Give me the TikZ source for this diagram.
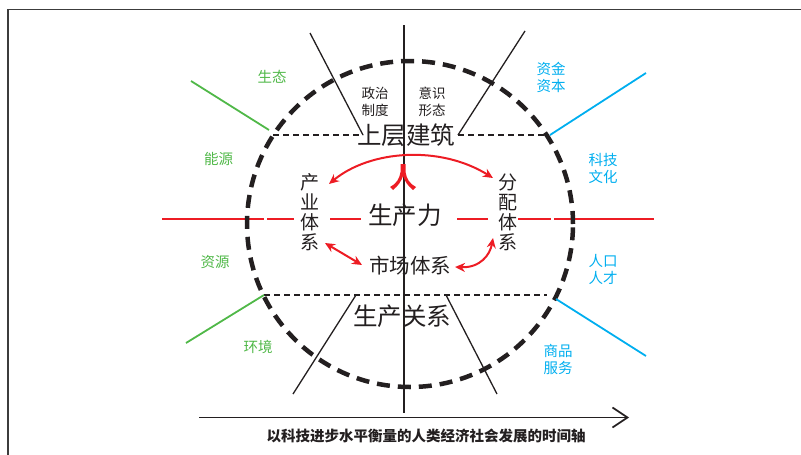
\documentclass[tikz,border=0pt]{standalone}
\usepackage{fontspec}
\newfontfamily\cjk{Noto Sans CJK SC}
\usetikzlibrary{arrows.meta}
\definecolor{tgreen}{RGB}{80,184,72}
\definecolor{tblue}{RGB}{0,174,239}
\definecolor{tred}{RGB}{237,28,36}
\definecolor{tink}{RGB}{35,31,32}
\definecolor{tframe}{RGB}{60,60,60}
\begin{document}
\begin{tikzpicture}[x=1pt,y=-1pt,
  every node/.style={inner sep=0pt,text=tink},
  small/.style={align=center,font=\cjk\fontsize{13.5}{17}\selectfont},
  side/.style={align=center,font=\cjk\fontsize{14.5}{17}\selectfont},
  big/.style={font=\cjk\fontsize{24.5}{26}\selectfont},
  mid/.style={font=\cjk\fontsize{20.5}{22}\selectfont},
  vert/.style={align=center,font=\cjk\fontsize{19}{20}\selectfont},
  caption/.style={font=\cjk\bfseries\fontsize{14.5}{16}\selectfont},
  circ/.style={line width=4.5pt,dash pattern=on 13pt off 8pt,tink},
  thindash/.style={line width=1.4pt,dash pattern=on 6pt off 4pt,tink},
  oblique/.style={line width=1.3pt,tink},
  gline/.style={line width=1.8pt,tgreen},
  bline/.style={line width=1.8pt,tblue},
  redl/.style={line width=2pt,tred},
  redarrow/.style={line width=2pt,tred,{Stealth[length=10pt,width=9pt]}-{Stealth[length=10pt,width=9pt]}}
]
\useasboundingbox (0,0) rectangle (801,455);
% frame
\draw[tframe,line width=1.3pt] (8,455) -- (8,9.5) -- (801,9.5);

% red horizontal line (drawn first)
\draw[redl] (162,218.5) -- (264,218.5);
\draw[redl] (267,218.5) -- (294,218.5);
\draw[redl] (330,218.5) -- (361,218.5);
\draw[redl] (457,218.5) -- (488,218.5);
\draw[redl] (518,218.5) -- (551,218.5);
\draw[redl] (554,218.5) -- (654,218.5);

% dashed circle
\draw[circ] (410,224) circle[radius=163pt];

% thin dashed horizontal lines
\draw[thindash] (273,135) -- (363,135);
\draw[thindash] (458,135) -- (547,135);
\draw[thindash] (264,295) -- (547,295);

% vertical axis
\coordinate (vtop) at (404,25);
\coordinate (vbot) at (404,413);
\draw[line width=1.6pt,tink] (vtop) -- (vbot);

% oblique black lines
\draw[oblique] (310,33) -- (363,135);
\draw[oblique] (525,31) -- (458,135);
\draw[oblique] (356,295) -- (293,394);
\draw[oblique] (446,295) -- (497,394);

% green lines
\draw[gline] (191,81) -- (269,130);
\draw[gline] (186,343) -- (264,295);
% blue lines
\draw[bline] (550,135) -- (646,73);
\draw[bline] (556,299) -- (646,356);

% time axis
\coordinate (t0) at (199,417.5);
\coordinate (t1) at (629,417.5);
\draw[line width=1.7pt,tink,-{Straight Barb[length=15pt,width=20pt]}] (t0) -- (t1);
\node[caption] (cap) at (426,436) {以科技进步水平衡量的人类经济社会发展的时间轴};

% main labels
\node[big] (sc) at (406,135) {上层建筑};
\node[big] (scl) at (405,215) {生产力};
\node[big] (scgx) at (402,316) {生产关系};
\node[mid] (sctx) at (410,266) {市场体系};
\node[vert] (cy) at (310,212) {产\\业\\体\\系};
\node[vert] (fp) at (508,212) {分\\配\\体\\系};
\node[small] (zz) at (375,102) {政治\\制度};
\node[small] (ys) at (432,102) {意识\\形态};

% green labels
\node[side,text=tgreen] (st) at (272,77) {生态};
\node[side,text=tgreen] (ny) at (218.5,159) {能源};
\node[side,text=tgreen] (zy) at (215,262) {资源};
\node[side,text=tgreen] (hj) at (258,347) {环境};
% blue labels
\node[side,text=tblue] (zj) at (551,77) {资金\\资本};
\node[side,text=tblue] (kj) at (603,168) {科技\\文化};
\node[side,text=tblue] (rk) at (603,269) {人口\\人才};
\node[side,text=tblue] (sp) at (558,359) {商品\\服务};

% red arrows
\coordinate (a1) at (329,184);
\coordinate (a2) at (493,178);
\draw[redarrow] (a1) .. controls (370,150) and (440,145) .. (a2);
\coordinate (b1) at (325,243);
\coordinate (b2) at (362,265);
\draw[redarrow] (b1) -- (b2);
\coordinate (c1) at (455,267);
\coordinate (c2) at (493,238);
\draw[redarrow] (c1) .. controls (480,268) and (490,255) .. (c2);

% red upward symbol
\fill[tred] (400.5,164) -- (405.5,164) -- (405.5,172)
  .. controls (406.5,179) and (410,184) .. (416,187) -- (413,190)
  .. controls (408,186) and (404.5,181) .. (403,176)
  .. controls (401.5,181) and (398,186) .. (393,190) -- (390,187)
  .. controls (396,184) and (399.5,179) .. (400.5,172) -- cycle;
\end{tikzpicture}
\end{document}
